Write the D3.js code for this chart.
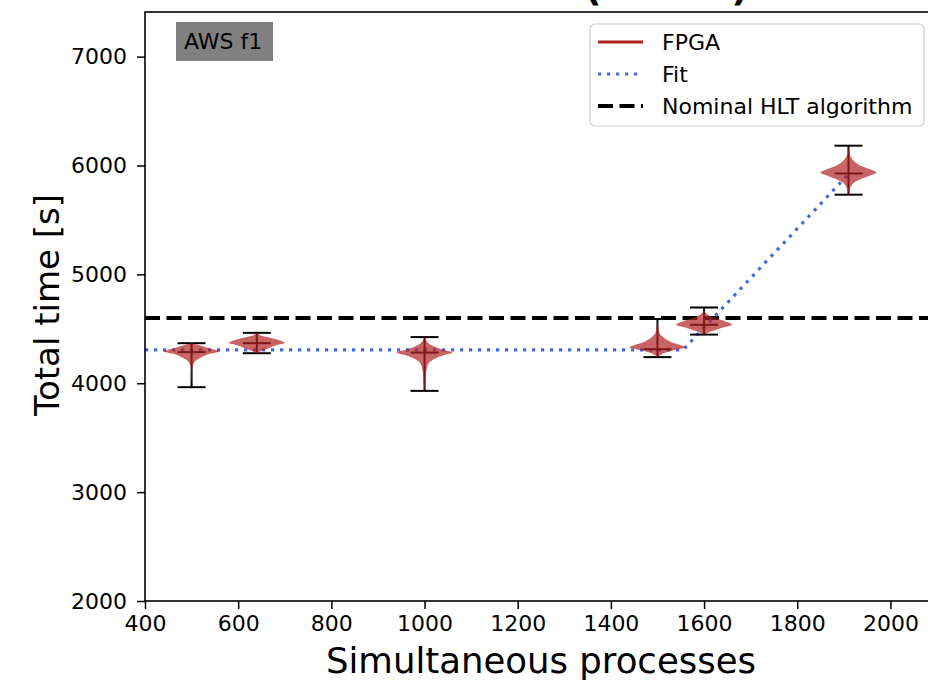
<!DOCTYPE html>
<html>
<head>
<meta charset="utf-8">
<script src="https://cdn.jsdelivr.net/npm/d3@7"></script>
<style>
  body { margin: 0; background: #fff; }
  svg { display: block; font-family: "DejaVu Sans", sans-serif; }
</style>
</head>
<body>
<svg id="chart" width="928" height="681"></svg>
<script>
// violin positions (simultaneous processes) and their stats [s]
var positions = [500, 640, 1000, 1500, 1600, 1910];
var mins  = [3964, 4276, 3930, 4240, 4447, 5732];
var maxs  = [4368, 4463, 4424, 4590, 4696, 6182];
var means = [4286, 4368, 4282, 4313, 4537, 5927];

// violin outlines: [time, relative half width]
var shapes = [
  [[3964,0],[4050,0.01],[4150,0.03],[4200,0.12],[4240,0.35],[4270,0.65],[4295,1],[4320,0.65],[4350,0.28],[4368,0]],
  [[4276,0],[4295,0.15],[4320,0.4],[4350,0.7],[4373,1],[4395,0.8],[4420,0.45],[4440,0.12],[4463,0]],
  [[3930,0],[4000,0.03],[4100,0.06],[4180,0.14],[4220,0.33],[4255,0.65],[4282,1],[4310,0.65],[4340,0.33],[4370,0.13],[4400,0.05],[4424,0]],
  [[4240,0],[4270,0.18],[4300,0.55],[4330,1],[4345,0.9],[4380,0.48],[4420,0.22],[4460,0.08],[4520,0.03],[4590,0]],
  [[4447,0],[4460,0.1],[4480,0.3],[4510,0.65],[4537,1],[4560,0.85],[4590,0.5],[4620,0.2],[4660,0.03],[4696,0]],
  [[5732,0],[5760,0.02],[5800,0.07],[5840,0.18],[5870,0.4],[5905,0.75],[5935,1],[5965,0.78],[6000,0.42],[6040,0.2],[6080,0.08],[6120,0.03],[6182,0]]
];

// piecewise fit
var fitX = [400, 1555, 1910];
var fitY = [4307, 4307, 5920];

var nominal = 4600;

var xTicks = [400, 600, 800, 1000, 1200, 1400, 1600, 1800, 2000];
var yTicks = [2000, 3000, 4000, 5000, 6000, 7000];

var legendLabels = ["FPGA", "Fit", "Nominal HLT algorithm"];
var boxLabel = "AWS f1";

// layout
var margin = { top: 12, left: 145 },
    plotW = 792, plotH = 589;

var svg = d3.select("#chart");

var x = d3.scaleLinear().domain([400, 2100]).range([margin.left, margin.left + plotW]);
var y = d3.scaleLinear().domain([2000, 7410]).range([margin.top + plotH, margin.top]);

var red = "#b22222", blue = "#4169e1";
var violinHalf = 60, capHalf = 30;

// title, mostly outside the picture
svg.append("text").attr("x", 593).attr("y", -0.5)
  .attr("font-size", 38).attr("font-weight", "bold").attr("text-anchor", "middle").text("(");
svg.append("text").attr("x", 740).attr("y", -0.5)
  .attr("font-size", 38).attr("font-weight", "bold").attr("text-anchor", "middle").text(")");

var plot = svg.append("g");

// nominal line
plot.append("line")
  .attr("x1", x(400)).attr("x2", x(2100))
  .attr("y1", y(nominal)).attr("y2", y(nominal))
  .attr("stroke", "#000").attr("stroke-width", 4)
  .attr("stroke-dasharray", "15,6.5");

// fit
var fitLine = d3.line().x(function (d) { return x(d[0]); }).y(function (d) { return y(d[1]); });
plot.append("path")
  .datum(fitX.map(function (v, i) { return [v, fitY[i]]; }))
  .attr("d", fitLine)
  .attr("fill", "none").attr("stroke", blue).attr("stroke-width", 3.2)
  .attr("stroke-dasharray", "3.2,5.8");

// violin bars (drawn under the bodies)
positions.forEach(function (p, i) {
  var g = plot.append("g").attr("stroke", "#000").attr("stroke-width", 2);
  g.append("line").attr("x1", x(p)).attr("x2", x(p)).attr("y1", y(mins[i])).attr("y2", y(maxs[i]));
  [mins[i], maxs[i], means[i]].forEach(function (v) {
    g.append("line").attr("x1", x(p - capHalf)).attr("x2", x(p + capHalf))
      .attr("y1", y(v)).attr("y2", y(v));
  });
});

// violin bodies
positions.forEach(function (p, i) {
  var area = d3.area()
    .curve(d3.curveCatmullRom)
    .y(function (d) { return y(d[0]); })
    .x0(function (d) { return x(p - violinHalf * d[1]); })
    .x1(function (d) { return x(p + violinHalf * d[1]); });
  plot.append("path").datum(shapes[i]).attr("d", area)
    .attr("fill", red).attr("fill-opacity", 0.7).attr("stroke", "none");
});

// axes
var xAxis = svg.append("g")
  .attr("transform", "translate(0," + (margin.top + plotH) + ")")
  .call(d3.axisBottom(x).tickValues(xTicks).tickSize(8).tickPadding(6).tickFormat(d3.format("d")));
var yAxis = svg.append("g")
  .attr("transform", "translate(" + margin.left + ",0)")
  .call(d3.axisLeft(y).tickValues(yTicks).tickSize(8).tickPadding(10).tickFormat(d3.format("d")));
[xAxis, yAxis].forEach(function (a) {
  a.select(".domain").remove();
  a.selectAll("line").attr("stroke", "#000").attr("stroke-width", 1.5);
  a.selectAll("text").attr("font-size", 22).attr("fill", "#000").attr("font-family", "DejaVu Sans");
});

// frame
svg.append("rect")
  .attr("x", margin.left).attr("y", margin.top)
  .attr("width", plotW).attr("height", plotH)
  .attr("fill", "none").attr("stroke", "#000").attr("stroke-width", 1.6);

// axis labels
svg.append("text").attr("x", 541).attr("y", 673)
  .attr("text-anchor", "middle").attr("font-size", 35.5).text("Simultaneous processes");
svg.append("text")
  .attr("transform", "translate(59,305) rotate(-90)")
  .attr("text-anchor", "middle").attr("font-size", 34).text("Total time [s]");

// AWS f1 box
svg.append("rect").attr("x", 176).attr("y", 22).attr("width", 97).attr("height", 39)
  .attr("fill", "#808080");
svg.append("text").attr("x", 184).attr("y", 49).attr("font-size", 22).text(boxLabel);

// legend
var leg = svg.append("g");
leg.append("rect").attr("x", 590).attr("y", 24).attr("width", 334).attr("height", 102)
  .attr("rx", 5).attr("fill", "#fff").attr("fill-opacity", 0.8)
  .attr("stroke", "#cccccc").attr("stroke-width", 1.2);
var legStyles = [
  { color: red, width: 3, dash: null },
  { color: blue, width: 3.2, dash: "3.2,5.8" },
  { color: "#000", width: 4, dash: "15,6.5" }
];
legendLabels.forEach(function (lab, i) {
  var yy = 42 + i * 32;
  leg.append("line").attr("x1", 598).attr("x2", 643).attr("y1", yy).attr("y2", yy)
    .attr("stroke", legStyles[i].color).attr("stroke-width", legStyles[i].width)
    .attr("stroke-dasharray", legStyles[i].dash);
  leg.append("text").attr("x", 662).attr("y", yy).attr("dy", "0.36em")
    .attr("font-size", 22).text(lab);
});
</script>
</body>
</html>
